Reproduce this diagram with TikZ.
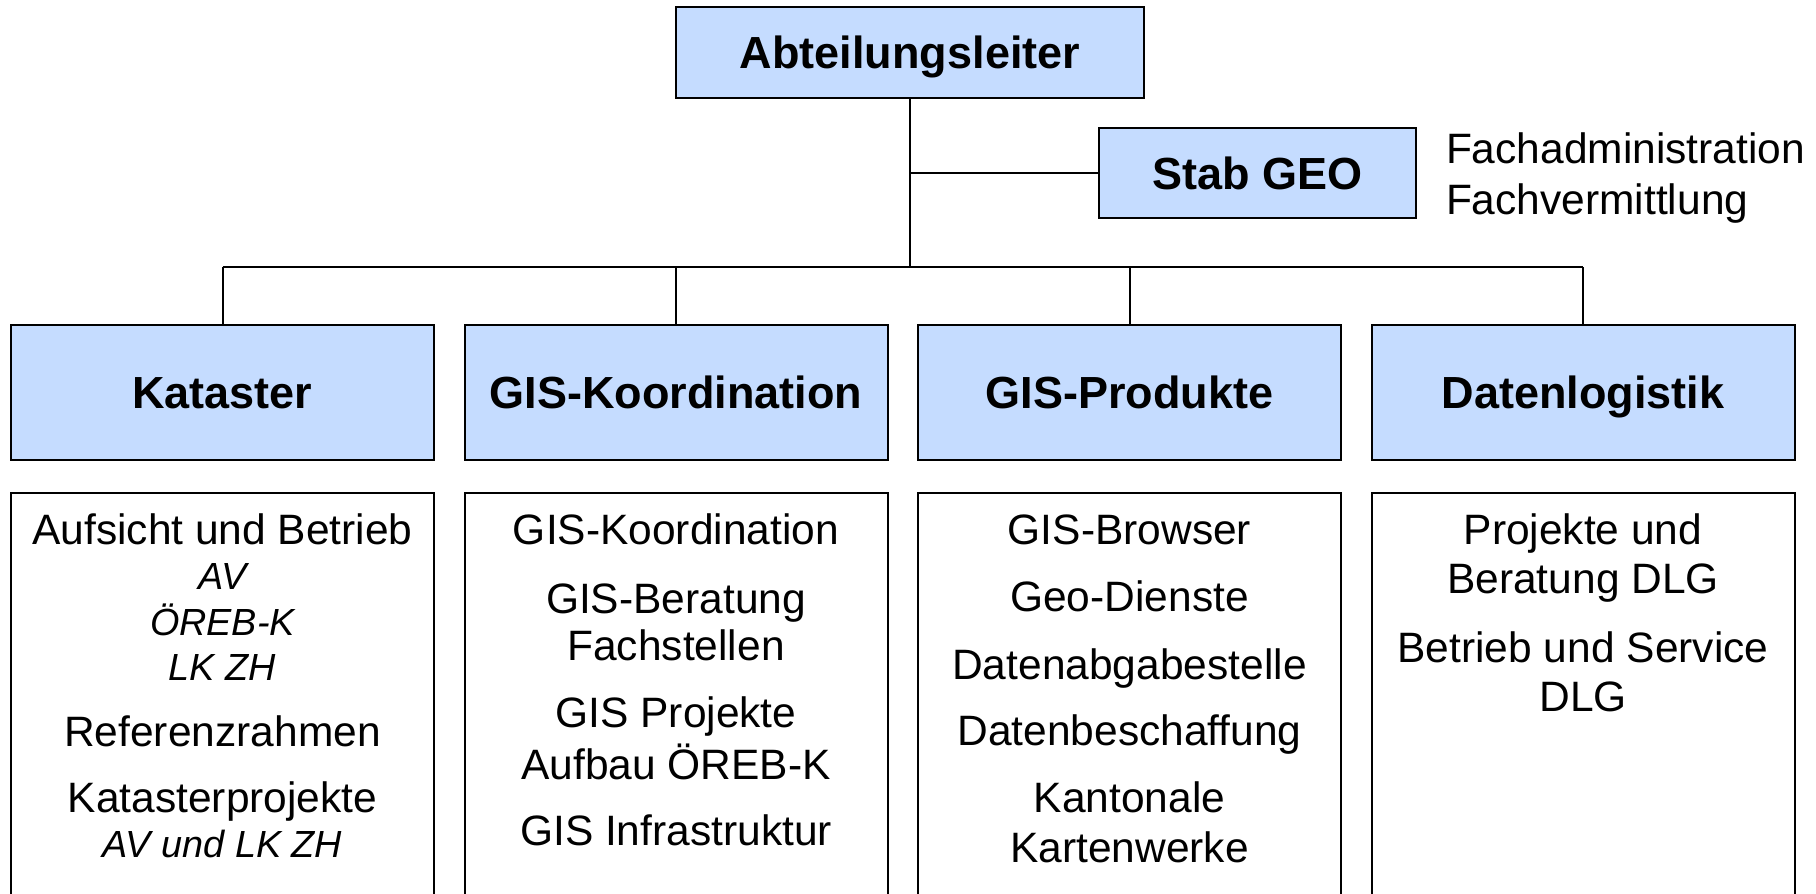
\documentclass[tikz,border=0pt]{standalone}
\usepackage{fontspec}
\setmainfont{Liberation Sans}
\definecolor{boxblue}{RGB}{197,220,255}
\newcommand{\kursiv}[1]{{\fontsize{37.8}{44}\selectfont\itshape #1}}

\begin{document}
\begin{tikzpicture}[x=1pt, y=-1pt, line width=2pt,
    head/.style={draw, fill=boxblue, inner sep=0pt,
      font=\fontsize{45}{52}\selectfont\bfseries,
      text height=32pt, text depth=0pt,
      minimum width=423pt, minimum height=135pt},
    list/.style={draw, fill=white, inner sep=0pt,
      minimum width=423pt, minimum height=469pt},
    item/.style={anchor=base, inner sep=0pt,
      font=\fontsize{42.5}{49}\selectfont}]

    \useasboundingbox (0,0) rectangle (1816,894);
    \clip (0,0) rectangle (1816,894);

    \node[head, minimum width=468pt, minimum height=91pt] (chef) at (910,52.5) {Abteilungsleiter};
    \node[head, minimum width=317pt, minimum height=90pt] (stab) at (1257.5,173) {Stab GEO};
    \node[item, anchor=base west] (fadm) at (1445,163) {Fachadministration};
    \node[item, anchor=base west] (fver) at (1445,214) {Fachvermittlung};

    \node[head] (kat) at (222.5,392.5) {Kataster};
    \node[head] (gisk) at (676,392.5) {GIS-Koordination};
    \node[head] (gisp) at (1129.5,392.5) {GIS-Produkte};
    \node[head] (dlg) at (1583,392.5) {Datenlogistik};

    \coordinate (bus) at (910,267);
    \draw (chef.south) -- (chef.south |- bus);
    \draw (chef.south |- stab.west) -- (stab.west);
    \draw (kat.north |- bus) -- (dlg.north |- bus);
    \foreach \n in {kat,gisk,gisp,dlg}
      \draw (\n.north) -- (\n.north |- bus);

    \foreach \n in {kat,gisk,gisp,dlg}
      \node[list, anchor=north] (\n list) at ([yshift=-31pt]\n.south) {};

    \foreach \y/\t [count=\i] in {544/Aufsicht und Betrieb, 589/\kursiv{AV},
      635/\kursiv{ÖREB-K}, 680/\kursiv{LK ZH}, 746/Referenzrahmen,
      812/Katasterprojekte, 857/\kursiv{AV und LK ZH}}
      \node[item] (kat\i) at (222.5,\y) {\t};

    \foreach \y/\t [count=\i] in {544/GIS-Koordination, 613/GIS-Beratung,
      660/Fachstellen, 727/GIS Projekte, 779/Aufbau ÖREB-K, 845/GIS Infrastruktur}
      \node[item] (gisk\i) at (676,\y) {\t};

    \foreach \y/\t [count=\i] in {544/GIS-Browser, 611/Geo-Dienste,
      679/Datenabgabestelle, 745/Datenbeschaffung, 812/Kantonale, 862/Kartenwerke}
      \node[item] (gisp\i) at (1129.5,\y) {\t};

    \foreach \y/\t [count=\i] in {544/Projekte und, 593/Beratung DLG,
      662/Betrieb und Service, 711/DLG}
      \node[item] (dlg\i) at (1583,\y) {\t};

  \end{tikzpicture}
\end{document}
